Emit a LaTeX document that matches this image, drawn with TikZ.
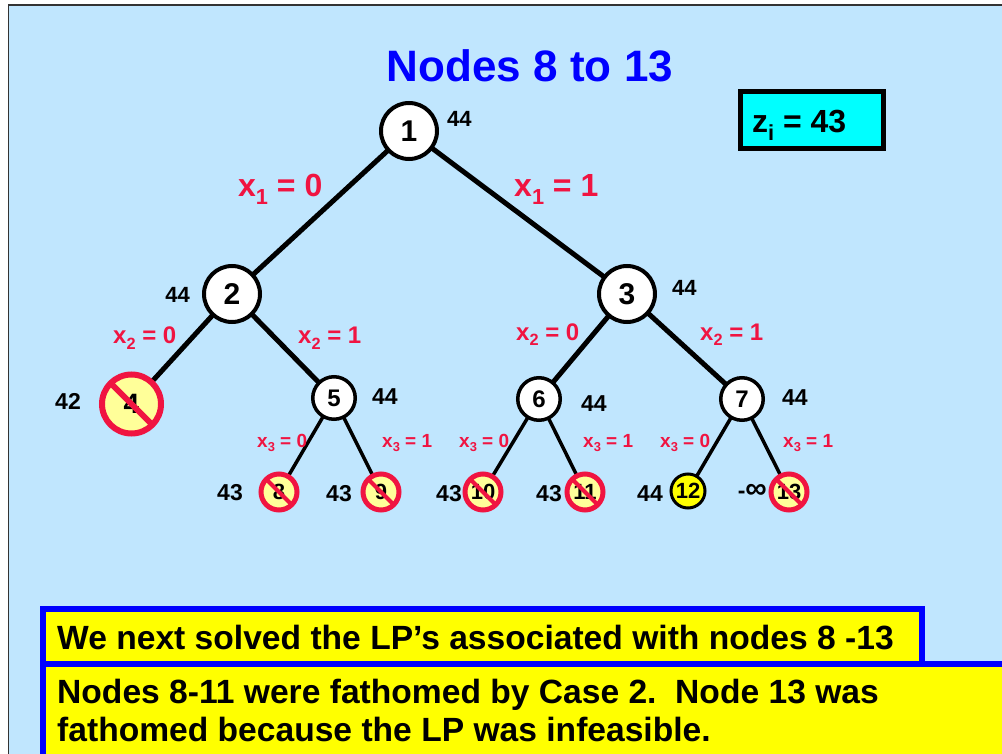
\documentclass[tikz,border=0pt]{standalone}
\usepackage{fontspec}
\setmainfont{Liberation Sans}
\usetikzlibrary{calc}

\definecolor{panelblue}{RGB}{192,230,254}
\definecolor{cutred}{RGB}{240,20,65}
\definecolor{paleyellow}{RGB}{255,255,153}
\definecolor{boxcyan}{RGB}{0,255,255}
\definecolor{boxblue}{RGB}{0,0,255}
\definecolor{boxyellow}{RGB}{255,255,0}

% subscript as set in the slides
\newcommand\low[1]{\raisebox{-0.22em}{\scalebox{0.68}{#1}}}
\newcommand\fs[1]{\fontsize{#1}{#1}\selectfont\bfseries}

\pgfdeclarelayer{panel}
\pgfdeclarelayer{edges}
\pgfsetlayers{panel,edges,main}

\tikzset{
  bignode/.style={circle, draw=black, fill=white, line width=4pt,
    minimum size=56pt, inner sep=0pt, outer sep=0pt, font=\fs{30}},
  midnode/.style={circle, draw=black, fill=white, line width=3.5pt,
    minimum size=42.5pt, inner sep=0pt, outer sep=0pt, font=\fs{24}},
  leafnode/.style={circle, draw=black, fill=boxyellow, line width=3pt,
    minimum size=34pt, inner sep=0pt, outer sep=0pt, font=\fs{22}},
  cutnode/.style={circle, draw=cutred, fill=paleyellow, line width=5pt,
    minimum size=36pt, inner sep=0pt, outer sep=0pt, font=\fs{22}},
  bigcut/.style={cutnode, line width=6pt, minimum size=59pt, font=\fs{28}},
  slash/.style={draw=cutred, line width=4pt},
  bigslash/.style={draw=cutred, line width=6pt},
  thickedge/.style={draw=black, line width=5pt},
  thinedge/.style={draw=black, line width=3.5pt},
  val/.style={inner sep=0pt, font=\fs{23}},
  topval/.style={inner sep=0pt, font=\fs{22}},
  lab1/.style={inner sep=0pt, text=cutred, font=\fs{32}},
  lab2/.style={inner sep=0pt, text=cutred, font=\fs{24}},
  lab3/.style={inner sep=0pt, text=cutred, font=\fs{19}},
  note/.style={inner sep=0pt, font=\fs{33.6}, anchor=base west},
}

\begin{document}
\begin{tikzpicture}[x=1pt, y=-1pt]
\useasboundingbox (0,0) rectangle (1002,754);
\clip (0,0) rectangle (1002,754);

\begin{pgfonlayer}{panel}
  \fill[white] (0,0) rectangle (1002,754);
  \draw[fill=panelblue, draw=black!80, line width=1.5pt] (8.5,5) rectangle (1020,770);
\end{pgfonlayer}

% title
\node[inner sep=0pt, anchor=base, text=boxblue, font=\fs{44}] (title) at (530,82) {Nodes 8 to 13};

% incumbent box
\node[draw=black, fill=boxcyan, line width=5pt, minimum width=143pt, minimum height=57pt,
      inner sep=0pt, anchor=north west] (zbox) at (737.5,89.5) {};
\node[inner sep=0pt, anchor=base west, font=\fs{32}] (ztext) at (752,133) {z\low{i} = 43};

% tree nodes
\node[bignode] (n1) at (409,131) {1};
\node[bignode] (n2) at (232,294) {2};
\node[bignode] (n3) at (627,294) {3};
\node[bigcut]  (n4) at (131.5,404) {4};
\node[midnode] (n5) at (334,398) {5};
\node[midnode] (n6) at (539,399) {6};
\node[midnode] (n7) at (742,399) {7};
\node[cutnode] (n8) at (279,492) {8};
\node[cutnode] (n9) at (381,492) {9};
\node[cutnode] (n10) at (483,492) {10};
\node[cutnode] (n11) at (585,492) {11};
\node[leafnode] (n12) at (688,491) {12};
\node[cutnode] (n13) at (789,492) {13};

% branches
\begin{pgfonlayer}{edges}
  \draw[thickedge] (n1.center) -- (n2.center);
  \draw[thickedge] (n1.center) -- (n3.center);
  \draw[thickedge] (n2.center) -- (n4.center);
  \draw[thickedge] (n2.center) -- (n5.center);
  \draw[thickedge] (n3.center) -- (n6.center);
  \draw[thickedge] (n3.center) -- (n7.center);
  \draw[thinedge] (n5.center) -- (n8.center);
  \draw[thinedge] (n5.center) -- (n9.center);
  \draw[thinedge] (n6.center) -- (n10.center);
  \draw[thinedge] (n6.center) -- (n11.center);
  \draw[thinedge] (n7.center) -- (n12.center);
  \draw[thinedge] (n7.center) -- (n13.center);
\end{pgfonlayer}

% fathomed nodes are struck through
\draw[bigslash] (n4.135) -- (n4.-45);
\foreach \n in {n8,n9,n10,n11,n13}
  \draw[slash] (\n.135) -- (\n.-45);

% LP bounds
\node[topval, anchor=base west] (v1) at (447,127) {44};
\node[topval, anchor=base east] (v2) at (190,302) {44};
\node[topval, anchor=base west] (v3) at (672,295) {44};
\node[val, anchor=base east] (v4) at (81,409) {42};
\node[val, anchor=base west] (v5) at (372,404) {44};
\node[val, anchor=base west] (v6) at (581,411) {44};
\node[val, anchor=base west] (v7) at (782,405) {44};
\node[val, anchor=base east] (v8) at (243,500) {43};
\node[val, anchor=base east] (v9) at (352,501) {43};
\node[val, anchor=base east] (v10) at (462,501) {43};
\node[val, anchor=base east] (v11) at (562,501) {43};
\node[val, anchor=base east] (v12) at (663,501) {44};
\node[val, anchor=base east] (v13) at (767,498) {-\fontsize{30}{30}\selectfont ∞};

% branching labels
\node[lab1, anchor=base west] (b12) at (238,197) {x\low{1} = 0};
\node[lab1, anchor=base west] (b13) at (514,197) {x\low{1} = 1};
\node[lab2, anchor=base west] (b24) at (113,344) {x\low{2} = 0};
\node[lab2, anchor=base west] (b25) at (298,344) {x\low{2} = 1};
\node[lab2, anchor=base west] (b36) at (516,340) {x\low{2} = 0};
\node[lab2, anchor=base west] (b37) at (700,340) {x\low{2} = 1};
\node[lab3, anchor=base west] (b58) at (257,447) {x\low{3} = 0};
\node[lab3, anchor=base west] (b59) at (382,447) {x\low{3} = 1};
\node[lab3, anchor=base west] (b610) at (459,447) {x\low{3} = 0};
\node[lab3, anchor=base west] (b611) at (583,447) {x\low{3} = 1};
\node[lab3, anchor=base west] (b712) at (660,447) {x\low{3} = 0};
\node[lab3, anchor=base west] (b713) at (783,447) {x\low{3} = 1};

% notes
\draw[draw=boxblue, fill=boxyellow, line width=6pt] (43,664) rectangle (1020,770);
\draw[draw=boxblue, fill=boxyellow, line width=6pt] (43,609) rectangle (922,664);
\node[note] (t1) at (57,649) {We next solved the LP’s associated with nodes 8 -13};
\node[note] (t2) at (57,703) {Nodes 8-11 were fathomed by Case 2.\ \ Node 13 was};
\node[note] (t3) at (57,741) {fathomed because the LP was infeasible.};
\end{tikzpicture}
\end{document}
